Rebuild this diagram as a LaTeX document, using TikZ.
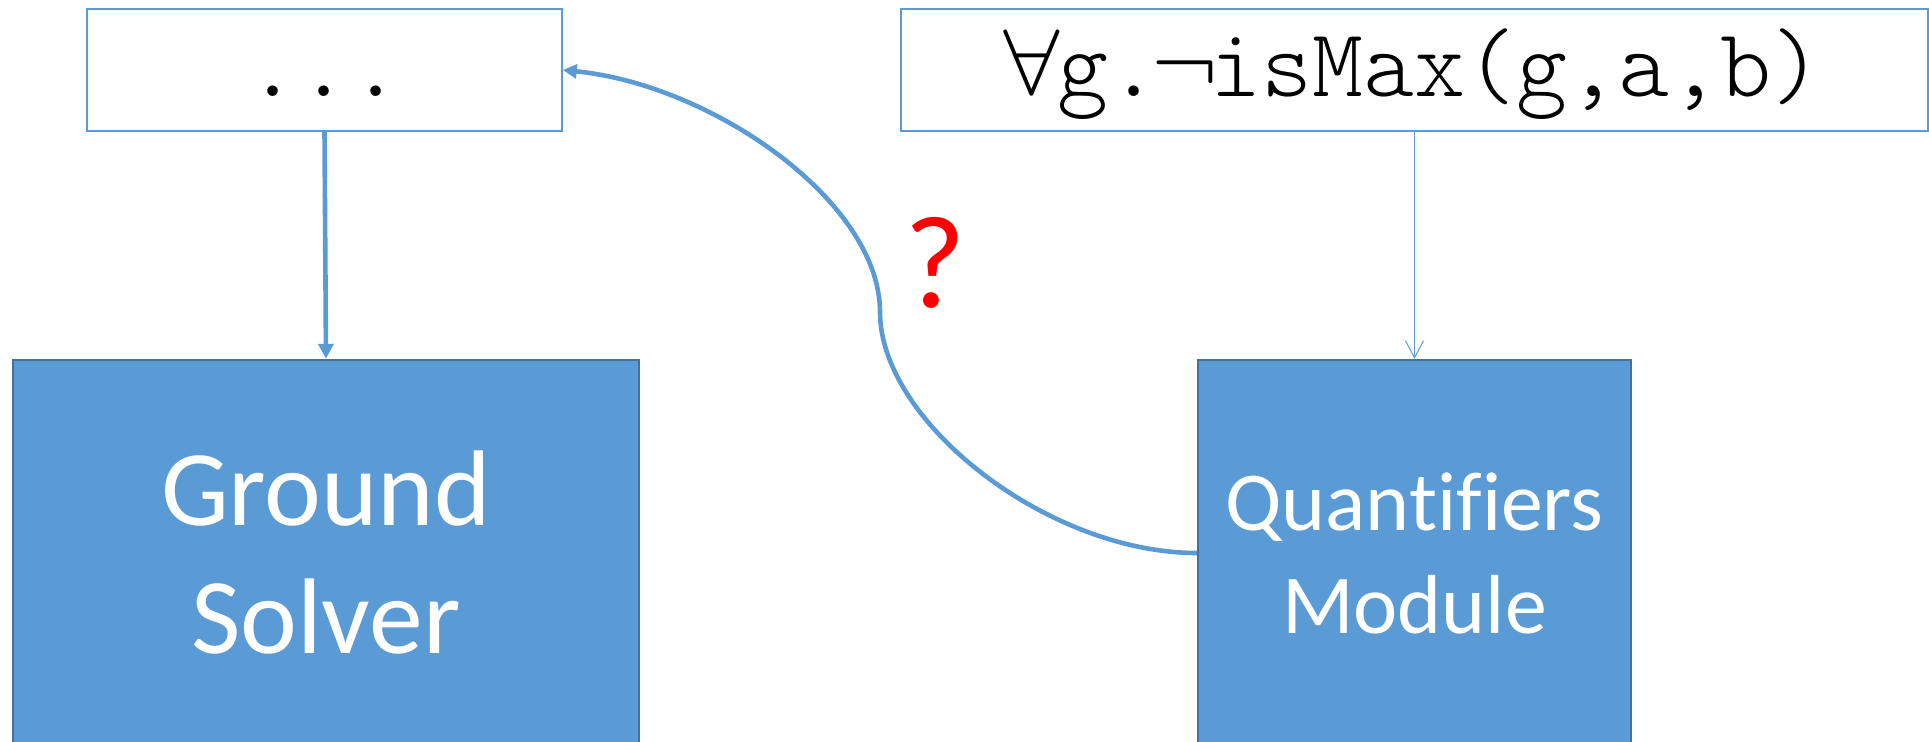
\documentclass[tikz,border=0pt]{standalone}
\usepackage{fontspec}
\setmainfont{Carlito}[Ligatures=CommonOff]
\setmonofont{lmmonolt10-regular.otf}
\newfontfamily\mathsym{latinmodern-math.otf}
\usetikzlibrary{arrows.meta}
\definecolor{boxblue}{HTML}{5B9BD5}
\definecolor{boxedge}{HTML}{41719C}
\definecolor{lineblue}{HTML}{5B9BD5}
\tikzset{
  textbox/.style={draw=lineblue, line width=0.8pt, fill=white, inner sep=0pt,
    font=\ttfamily\fontsize{48.6}{56}\selectfont, text height=36pt, text depth=9pt},
  bluebox/.style={draw=boxedge, line width=1.2pt, fill=boxblue, inner sep=0pt,
    text=white, align=center},
  thick arrow/.style={draw=lineblue, line width=2.3pt, -{Triangle[length=7.5pt,width=7.5pt]}},
  thin arrow/.style={draw=lineblue, line width=0.5pt, -{Straight Barb[length=8.5pt,width=9pt]}},
  curve arrow/.style={draw=lineblue, line width=2.3pt, -{Triangle[length=7pt,width=7pt]}},
}
\begin{document}
\begin{tikzpicture}[x=0.5pt,y=-0.5pt]
\useasboundingbox (0,0) rectangle (1929,742);
\node[textbox, minimum width=237.5pt, minimum height=61pt] (dots) at (324.5,70) {...};
\node[textbox, minimum width=513.5pt, minimum height=61pt] (formula) at (1414.5,70)
  {\makebox[0.525em]{\mathsym ∀}g.\makebox[0.525em]{\mathsym ¬}isMax(g,a,b)};
\node[bluebox, minimum width=313pt, minimum height=193pt,
  font=\fontsize{53.8}{64}\selectfont] (ground) at (326,553) {Ground\\Solver};
\node[bluebox, minimum width=216.5pt, minimum height=193pt,
  font=\fontsize{41.9}{51.5}\selectfont] (quant) at (1414.5,553) {Quantifiers\\Module};
\node[text=red, font=\fontsize{66}{66}\selectfont, inner sep=0pt] (q) at (935.5,263) {?};
\coordinate (turn) at (880,312);
\draw[thick arrow] (dots.south) -- (ground.north);
\draw[thin arrow] (formula.south) -- (quant.north);
\draw[curve arrow] (quant.west) .. controls (1048,553) and (880,422) .. (turn)
  .. controls (880,202) and (713,85) .. (dots.east);
\end{tikzpicture}
\end{document}
